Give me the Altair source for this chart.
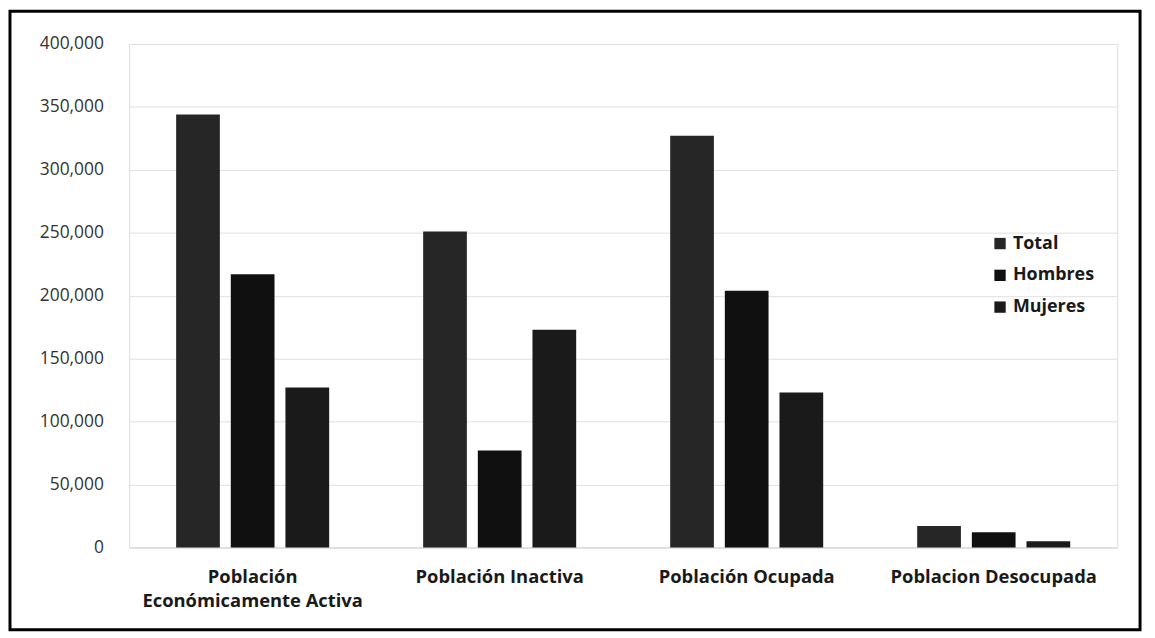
import altair as alt
import pandas as pd

categories = ["Población Económicamente Activa", "Población Inactiva", "Población Ocupada", "Poblacion Desocupada"]
series = ["Total", "Hombres", "Mujeres"]
total = [344000, 251000, 327000, 17000]
hombres = [217000, 77000, 204000, 12000]
mujeres = [127000, 173000, 123000, 5000]
colors = ["#262626", "#101010", "#1a1a1a"]

rows = []
for i, c in enumerate(categories):
    for s, vals in zip(series, [total, hombres, mujeres]):
        rows.append({"cat": c, "serie": s, "valor": vals[i]})
df = pd.DataFrame(rows)

FONT = "Open Sans"

bars = alt.Chart(df).mark_bar().encode(
    x=alt.X("cat:N", sort=categories, title=None,
            scale=alt.Scale(paddingInner=0, paddingOuter=0),
            axis=alt.Axis(labelAngle=0, labelFont=FONT, labelFontWeight="bold",
                          labelFontSize=18.5, labelColor="#1a1a1a", ticks=False,
                          domainColor="#d9d9d9", labelPadding=20, labelLimit=300,
                          labelLineHeight=24,
                          labelExpr="datum.value == 'Población Económicamente Activa' ? ['Población', 'Económicamente Activa'] : datum.value")),
    xOffset=alt.XOffset("serie:N", sort=series,
                        scale=alt.Scale(paddingInner=0.2, paddingOuter=0.86)),
    y=alt.Y("valor:Q", title=None,
            scale=alt.Scale(domain=[0, 400000]),
            axis=alt.Axis(values=[0, 50000, 100000, 150000, 200000, 250000, 300000, 350000, 400000],
                          format=",.0f", labelFont=FONT, labelFontSize=17.5, labelColor="#333333",
                          ticks=False, domain=False, gridColor="#e0e0e0", labelPadding=26)),
    color=alt.Color("serie:N", sort=series,
                    scale=alt.Scale(domain=series, range=colors),
                    legend=alt.Legend(title=None, orient="none", legendX=868, legendY=192,
                                      symbolType="square", symbolSize=130,
                                      labelFont=FONT, labelFontSize=18, labelFontWeight="bold",
                                      labelColor="#1a1a1a", rowPadding=14, symbolStrokeWidth=0)),
)

frame = alt.Chart(pd.DataFrame({"k": [0]})).mark_rect(
    fill=None, stroke="black", strokeWidth=3
).encode(
    x=alt.value(-120), x2=alt.value(1018), y=alt.value(-33), y2=alt.value(590)
)

chart = alt.layer(bars, frame).properties(
    width=995, height=507,
    padding={"left": 122, "top": 34, "right": 30, "bottom": 90},
    autosize=alt.AutoSizeParams(type="none"),
).configure_view(stroke=None).configure(background="white")

chart.save("out.html", embed_options={"renderer": "svg", "actions": False})
